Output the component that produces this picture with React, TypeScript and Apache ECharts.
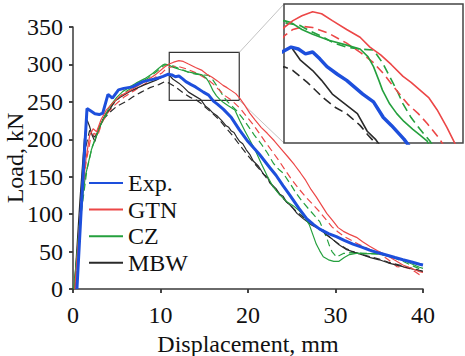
import React, { useEffect, useRef } from "react";
import * as echarts from "echarts";

type Pt = [number, number];

// Load–displacement curves: [displacement (mm), load (kN)]
const expData: Pt[] = [
  [0.45, 0], [1.0, 120], [1.6, 241], [2.0, 238], [2.5, 234], [3.0, 233], [3.4, 235], [4.0, 260], [4.5, 255],
  [5.2, 266], [5.8, 268], [6.8, 270], [8.0, 277], [9.5, 281], [10.3, 284], [10.9, 287], [11.3, 286], [11.7, 283.5],
  [12.1, 284.5], [12.5, 281], [12.9, 277], [13.5, 273], [14.0, 270], [14.9, 263], [15.5, 259], [16.05, 251],
  [16.5, 247], [17.2, 240], [18.1, 229], [19.0, 213], [20.0, 197], [21.3, 180], [22.5, 162], [23.2, 152],
  [24.0, 138], [24.8, 125], [25.8, 108], [26.7, 94], [27.5, 86], [28.2, 80], [29.2, 74], [30.1, 70], [31.0, 65],
  [32.0, 60], [33.0, 56], [33.9, 52], [35.0, 48], [35.8, 45.5], [36.8, 42], [37.7, 39], [38.7, 36], [39.6, 33], [40, 32],
];

const gtnData: Pt[] = [
  [0.2, 0], [0.9, 110], [1.5, 175], [1.9, 205], [2.3, 214], [2.7, 210], [3.2, 226], [3.8, 239], [4.5, 248],
  [5.3, 257], [6.5, 265], [7.6, 273], [8.6, 280], [9.5, 287], [10.5, 297], [11.0, 300.5], [11.5, 303], [12.1, 305],
  [12.6, 304], [13.2, 300.5], [14.0, 296], [14.75, 292], [15.3, 287], [15.9, 283], [16.5, 278], [17.15, 272],
  [17.6, 269], [18.1, 265], [18.6, 261], [19.05, 255], [19.6, 246], [20.2, 235], [20.8, 226], [21.5, 216],
  [22.2, 208], [23.0, 198], [23.8, 187], [24.6, 176], [25.3, 166], [26.0, 155], [26.6, 145], [27.2, 133],
  [27.8, 123], [28.4, 112], [29.0, 101], [29.7, 91], [30.3, 82], [30.9, 77], [31.6, 73], [32.4, 69], [33.1, 63],
  [33.9, 57], [34.8, 51], [35.8, 45.5], [36.7, 39], [37.7, 32], [38.6, 28], [39.6, 23], [40, 22],
];

const gtnAltData: Pt[] = [
  [0.2, 0], [0.9, 105], [1.5, 170], [2.0, 200], [2.4, 208], [2.8, 204], [3.3, 222], [4.0, 236], [4.8, 246],
  [5.8, 256], [7.0, 265], [8.2, 274], [9.3, 282], [10.2, 289], [10.55, 293], [11.0, 296], [11.6, 297.5],
  [12.1, 297], [13.0, 294], [14.0, 289], [14.8, 284], [15.5, 279], [16.1, 273], [16.6, 267], [17.4, 258],
  [18.0, 253], [18.5, 248], [19.2, 240], [19.8, 231], [20.5, 221], [21.3, 208], [22.0, 196], [22.7, 185],
  [23.5, 172], [24.3, 158], [25.0, 146], [25.8, 134], [26.6, 123], [27.4, 113], [28.2, 103], [28.9, 93],
  [29.6, 83], [30.3, 76], [31.0, 70], [31.8, 65], [32.6, 60], [33.5, 55], [34.4, 50], [35.3, 45], [35.8, 41],
  [36.5, 35], [37.0, 30], [37.8, 29], [38.5, 27], [39.1, 23], [39.6, 19], [40, 18],
];

const czData: Pt[] = [
  [0.1, 0], [0.8, 95], [1.4, 150], [2.1, 186], [3.05, 217], [4.2, 244], [5.0, 256], [5.7, 264], [6.5, 270],
  [7.2, 275], [8.2, 281], [9.1, 288], [9.8, 295], [10.3, 299.5], [10.5, 300.5], [10.9, 299.5], [11.5, 296],
  [12.1, 293.5], [13.0, 290.5], [14.0, 288], [14.75, 286], [15.2, 282], [15.5, 277], [15.8, 270], [16.0, 265],
  [16.4, 258], [16.8, 253], [17.2, 249], [17.7, 245], [18.1, 242], [18.5, 239], [19.05, 225], [19.6, 212],
  [20.2, 199], [20.8, 186], [21.5, 168], [22.2, 151], [22.9, 136], [23.6, 126], [24.4, 117], [25.2, 111],
  [25.9, 104], [26.5, 95], [27.0, 86], [27.4, 73], [27.8, 60], [28.2, 51], [28.6, 43], [29.2, 39], [29.8, 37],
  [30.4, 37], [31.0, 42], [31.6, 46], [32.5, 48], [33.4, 47], [34.3, 47.5], [35.1, 46.5], [35.8, 45], [36.7, 42],
  [37.7, 39], [38.6, 34], [39.6, 29], [40, 27.5],
];

const czAltData: Pt[] = [
  [0.1, 0], [0.9, 98], [1.6, 160], [2.2, 190], [3.2, 220], [4.4, 245], [5.8, 262], [7.2, 272], [8.6, 282],
  [9.6, 291], [10.5, 299.5], [11.4, 298], [12.0, 295], [12.7, 292], [13.3, 289], [14.0, 287], [14.7, 286],
  [15.5, 285.5], [16.0, 279], [16.4, 272], [16.8, 265], [17.15, 258], [17.6, 251], [18.1, 245], [18.65, 239],
  [19.4, 228], [20.0, 218], [20.7, 206], [21.5, 194], [22.2, 182], [22.9, 168], [23.5, 160], [24.0, 155],
  [24.8, 141], [25.5, 128], [26.2, 117], [27.0, 106], [27.6, 98], [28.2, 90], [28.6, 79], [29.0, 68], [29.3, 58],
  [29.6, 50], [30.1, 43], [30.5, 45], [30.9, 47.5], [31.8, 48.5], [32.8, 48], [33.6, 47.5], [34.3, 47], [35.2, 46],
  [36.0, 44], [36.8, 41], [37.7, 37], [38.6, 32], [39.6, 27], [40, 26],
];

const mbwData: Pt[] = [
  [0.15, 0], [0.8, 120], [1.3, 200], [1.6, 226], [1.9, 217], [2.2, 205], [2.5, 197], [2.8, 210], [3.4, 226],
  [3.8, 235], [4.2, 240], [4.8, 251], [5.5, 257], [6.5, 264], [8.0, 272], [9.5, 279], [10.5, 285], [10.9, 287],
  [11.4, 280.5], [12.1, 275], [12.6, 270], [13.2, 263], [13.9, 258], [14.6, 253], [15.15, 244], [15.6, 240],
  [16.0, 235], [16.5, 231], [17.0, 225], [17.5, 218], [17.8, 216], [18.1, 211], [18.4, 209], [18.7, 203],
  [19.05, 197], [19.4, 194], [19.8, 186], [20.2, 180], [20.6, 171], [21.2, 164], [21.8, 153], [22.2, 150],
  [22.5, 142], [23.2, 134], [23.6, 127], [24.0, 124], [24.4, 116], [25.0, 110], [25.6, 101], [26.3, 94],
  [27.2, 86], [28.2, 80], [29.0, 72], [29.7, 66], [30.4, 59], [31.2, 53], [32.2, 49], [33.1, 45.5], [34.0, 42],
  [35.0, 39], [36.0, 35], [37.0, 32], [38.3, 28], [39.6, 24], [40, 23],
];

const mbwAltData: Pt[] = [
  [0.2, 0], [0.9, 120], [1.5, 192], [1.9, 212], [2.2, 206], [2.5, 203], [2.9, 214], [3.4, 226], [4.2, 236],
  [5.0, 244], [6.0, 250], [6.9, 257], [7.8, 263], [8.8, 269], [9.8, 273], [10.5, 277], [11.0, 275], [11.8, 269],
  [12.7, 261], [13.4, 256], [14.0, 253], [14.75, 247], [15.2, 242], [16.0, 234], [16.8, 225], [17.5, 215],
  [18.3, 204], [19.0, 193], [19.8, 181], [20.5, 171], [21.3, 160], [22.0, 150], [22.5, 142], [23.3, 131],
  [24.0, 121], [24.8, 112], [25.5, 104], [26.6, 93], [27.8, 84], [28.8, 74], [29.7, 66], [30.5, 59], [31.2, 54],
  [32.2, 49], [33.0, 46], [34.0, 43], [35.0, 40], [36.0, 36], [37.0, 33], [38.3, 29], [39.6, 25], [40, 24],
];

// Axis ranges
const xRange = [0, 40, 10];
const yRange = [0, 350, 50];
// Region outlined on the main plot and the range shown in the magnified panel
const boxX = [11, 19];
const boxY = [252, 316];
const zoomX = [10.5, 20.5];
const zoomY = [238, 309];

const legendNames = ["Exp.", "GTN", "CZ", "MBW"];

const BLUE = "#1d4fdc";
const RED = "#ec4747";
const GREEN = "#25a03e";
const BLACK = "#2a2a2a";
const FONT = "'Liberation Serif', 'Times New Roman', Times, serif";
const AXIS = "#3a3a3a";

interface Curve {
  name: string;
  data: Pt[];
  color: string;
  width: number;
  dashed: boolean;
  z: number;
}

const curves: Curve[] = [
  { name: "MBW-2", data: mbwAltData, color: BLACK, width: 1.2, dashed: true, z: 2 },
  { name: "CZ-2", data: czAltData, color: GREEN, width: 1.2, dashed: true, z: 2 },
  { name: "GTN-2", data: gtnAltData, color: RED, width: 1.2, dashed: true, z: 2 },
  { name: "MBW", data: mbwData, color: BLACK, width: 1.2, dashed: false, z: 3 },
  { name: "CZ", data: czData, color: GREEN, width: 1.2, dashed: false, z: 3 },
  { name: "GTN", data: gtnData, color: RED, width: 1.2, dashed: false, z: 3 },
  { name: "Exp.", data: expData, color: BLUE, width: 3, dashed: false, z: 4 },
];

export default function App() {
  const ref = useRef<HTMLDivElement>(null);

  useEffect(() => {
    if (!ref.current) return;
    const chart = echarts.init(ref.current, undefined, { renderer: "svg" });

    const mainSeries = curves.map((c) => ({
      type: "line",
      name: c.name,
      data: c.data,
      xAxisIndex: 0,
      yAxisIndex: 0,
      symbol: "none",
      showSymbol: false,
      z: c.z,
      lineStyle: { color: c.color, width: c.width, type: c.dashed ? [7, 4] : "solid" },
      itemStyle: { color: c.color },
    }));

    const insetSeries = curves.map((c) => ({
      type: "line",
      name: c.name,
      data: c.data,
      xAxisIndex: 2,
      yAxisIndex: 2,
      symbol: "none",
      showSymbol: false,
      clip: true,
      z: c.z + 10,
      lineStyle: { color: c.color, width: c.name === "Exp." ? 3.5 : 1.6, type: c.dashed ? [9, 5] : "solid" },
      itemStyle: { color: c.color },
    }));

    // outline of the magnified region
    (mainSeries[0] as any).markArea = {
      silent: true,
      itemStyle: { color: "rgba(0,0,0,0)", borderColor: "#333", borderWidth: 1.2 },
      data: [[{ xAxis: boxX[0], yAxis: boxY[1] }, { xAxis: boxX[1], yAxis: boxY[0] }]],
    };

    const tickLabel = { fontFamily: FONT, fontSize: 24, color: "#111" };

    chart.setOption({
      animation: false,
      backgroundColor: "#fff",
      grid: [
        { left: 73, top: 27, width: 350, height: 262, containLabel: false, outerBoundsMode: "none" },
        {
          left: 284, top: 4, width: 179, height: 139, containLabel: false, outerBoundsMode: "none",
          show: true, backgroundColor: "#fff", borderColor: "#444", borderWidth: 1.5, z: 8,
        },
      ],
      legend: {
        data: legendNames,
        orient: "vertical",
        left: 88,
        top: 171,
        padding: 0,
        itemWidth: 34,
        itemHeight: 1,
        itemGap: 2.6,
        itemStyle: { opacity: 0 },
        textStyle: { fontFamily: FONT, fontSize: 24, color: "#111", lineHeight: 24 },
        selectedMode: false,
      },
      xAxis: [
        {
          type: "value", gridIndex: 0, min: xRange[0], max: xRange[1], interval: xRange[2],
          name: "Displacement, mm", nameLocation: "middle", nameGap: 42,
          nameTextStyle: { fontFamily: FONT, fontSize: 24, color: "#111" },
          axisLine: { show: true, onZero: false, lineStyle: { color: AXIS, width: 1.5 } },
          axisTick: { show: true, inside: false, length: 4, lineStyle: { color: AXIS, width: 1.5 } },
          axisLabel: { ...tickLabel, margin: 14 },
          splitLine: { show: false },
        },
        {
          type: "value", gridIndex: 0, min: xRange[0], max: xRange[1], interval: xRange[2],
          axisLine: { show: false },
          axisTick: { show: true, inside: true, length: 4, lineStyle: { color: AXIS, width: 1.5 } },
          axisLabel: { show: false },
          splitLine: { show: false },
        },
        {
          type: "value", gridIndex: 1, min: zoomX[0], max: zoomX[1], show: false,
          splitLine: { show: false },
        },
      ],
      yAxis: [
        {
          type: "value", gridIndex: 0, min: yRange[0], max: yRange[1], interval: yRange[2],
          name: "Load, kN", nameLocation: "middle", nameGap: 46, nameMoveOverlap: false,
          nameTextStyle: { fontFamily: FONT, fontSize: 24, color: "#111" },
          axisLine: { show: true, onZero: false, lineStyle: { color: AXIS, width: 1.5 } },
          axisTick: { show: true, inside: false, length: 4, lineStyle: { color: AXIS, width: 1.5 } },
          axisLabel: { ...tickLabel, margin: 10 },
          splitLine: { show: false },
        },
        {
          type: "value", gridIndex: 0, min: yRange[0], max: yRange[1], interval: yRange[2],
          axisLine: { show: false },
          axisTick: { show: true, inside: true, length: 4, lineStyle: { color: AXIS, width: 1.5 } },
          axisLabel: { show: false },
          splitLine: { show: false },
        },
        {
          type: "value", gridIndex: 1, min: zoomY[0], max: zoomY[1], show: false,
          splitLine: { show: false },
        },
      ],
      series: [...mainSeries, ...insetSeries],
    });

    // leader lines from the outlined region to the magnified panel
    const a = chart.convertToPixel({ xAxisIndex: 0, yAxisIndex: 0 }, [boxX[1], boxY[1]]) as number[];
    const b = chart.convertToPixel({ xAxisIndex: 0, yAxisIndex: 0 }, [boxX[1], boxY[0]]) as number[];
    const c = chart.convertToPixel({ xAxisIndex: 2, yAxisIndex: 2 }, [zoomX[0], zoomY[1]]) as number[];
    const d = chart.convertToPixel({ xAxisIndex: 2, yAxisIndex: 2 }, [zoomX[0], zoomY[0]]) as number[];
    chart.setOption({
      graphic: [
        { type: "line", silent: true, z: 1, shape: { x1: a[0], y1: a[1], x2: c[0], y2: c[1] }, style: { stroke: "#c4c4c4", lineWidth: 1 } },
        { type: "line", silent: true, z: 1, shape: { x1: b[0], y1: b[1], x2: d[0], y2: d[1] }, style: { stroke: "#c4c4c4", lineWidth: 1 } },
      ],
    });

    return () => chart.dispose();
  }, []);

  return (
    <div
      ref={ref}
      style={{ position: "fixed", left: 0, top: 0, width: 465, height: 356, background: "#fff" }}
    />
  );
}
